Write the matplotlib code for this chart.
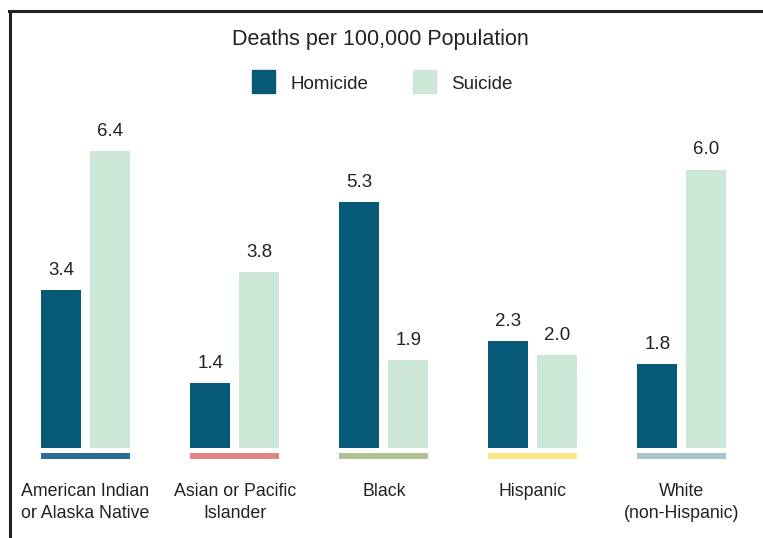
import numpy as np
import matplotlib
matplotlib.use('agg')
import matplotlib.pyplot as plt
from matplotlib.patches import Rectangle
from matplotlib.lines import Line2D

plt.rcParams['font.family'] = ['Liberation Sans', 'DejaVu Sans']

# data
groups = ["American Indian\nor Alaska Native", "Asian or Pacific\nIslander", "Black",
          "Hispanic", "White\n(non-Hispanic)"]
homicide = [3.4, 1.4, 5.3, 2.3, 1.8]
suicide = [6.4, 3.8, 1.9, 2.0, 6.0]
group_colors = ["#2d6a98", "#e08484", "#b1c295", "#fde586", "#a9c4cf"]

c_hom = "#065a78"
c_sui = "#cde7d6"
txt = "#222222"

W, H = 763, 538
fig = plt.figure(figsize=(W / 100, H / 100), dpi=100)

# axes in pixel terms: group spacing ~149 px, baseline at y=448, 46.4 px per unit
left_px, right_px = 11, 756.5
base_px, top_px = 448, 11
ax = fig.add_axes([left_px / W, 1 - base_px / H, (right_px - left_px) / W, (base_px - top_px) / H])
ppu = 46.4
ax.set_xlim(-0.5, 4.5)
ax.set_ylim(0, (base_px - top_px) / ppu)
ax.axis('off')

x = np.arange(len(groups))
bw = 40 / 149.1
off = 24.5 / 149.1

ax.bar(x - off, homicide, bw, color=c_hom)
ax.bar(x + off, suicide, bw, color=c_sui)

for i in range(len(groups)):
    ax.text(x[i] - off, homicide[i] + 0.24, "%.1f" % homicide[i], ha='center', va='bottom',
            fontsize=13.5, color=txt)
    ax.text(x[i] + off, suicide[i] + 0.24, "%.1f" % suicide[i], ha='center', va='bottom',
            fontsize=13.5, color=txt)
    # colored underline per group
    ax.add_patch(Rectangle((x[i] - off - bw / 2, -10.5 / ppu), 2 * off + bw, 5.5 / ppu,
                           color=group_colors[i], clip_on=False, lw=0))
    ax.text(x[i], -35 / ppu, groups[i], ha='center', va='top', fontsize=12.8,
            color=txt, linespacing=1.42)

# title and legend
fig.text(380 / W, 1 - 39 / H, "Deaths per 100,000 Population", ha='center', va='center',
         fontsize=15.5, color=txt)
fig.patches.append(Rectangle((252 / W, 1 - 93 / H), 23 / W, 23 / H, color=c_hom,
                             transform=fig.transFigure))
fig.text(290 / W, 1 - 84 / H, "Homicide", ha='left', va='center', fontsize=13.5, color=txt)
fig.patches.append(Rectangle((413 / W, 1 - 93 / H), 23 / W, 23 / H, color=c_sui,
                             transform=fig.transFigure))
fig.text(451 / W, 1 - 84 / H, "Suicide", ha='left', va='center', fontsize=13.5, color=txt)

# frame lines (top and left)
fig.lines.append(Line2D([9 / W, 1], [1 - 11 / H, 1 - 11 / H], color="#222222", lw=2.2,
                        transform=fig.transFigure))
fig.lines.append(Line2D([9.5 / W, 9.5 / W], [0, 1 - 11 / H], color="#222222", lw=2.2,
                        transform=fig.transFigure))

fig.savefig("out.png", dpi=100)
